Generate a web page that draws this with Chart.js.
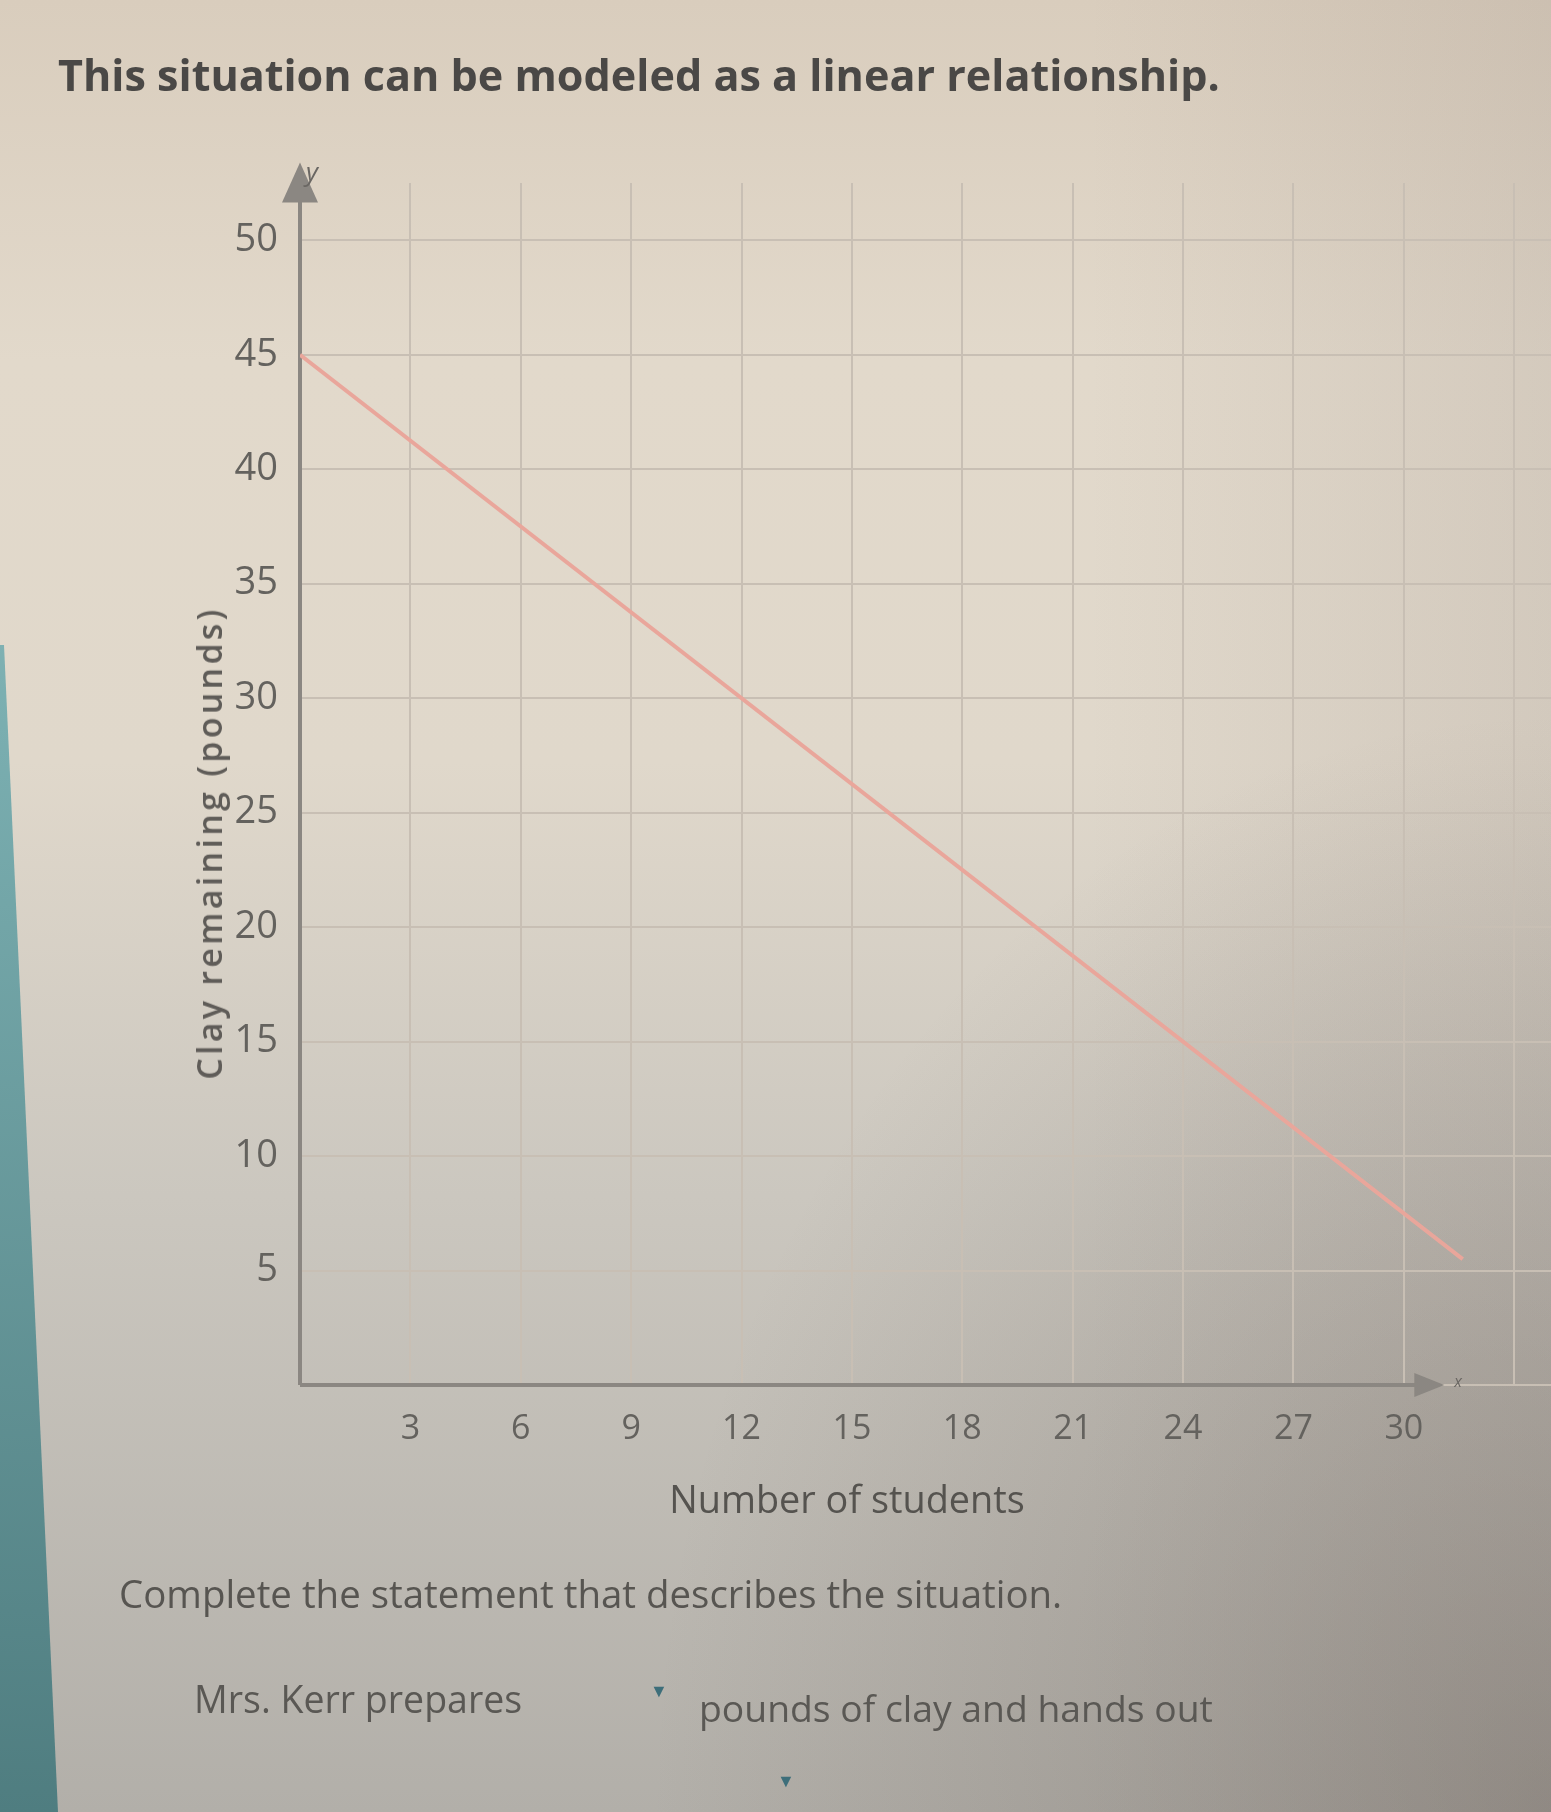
<!DOCTYPE html>
<html><head><meta charset="utf-8">
<script src="https://cdn.jsdelivr.net/npm/chart.js@4/dist/chart.umd.min.js"></script>
<style>
html,body{margin:0;padding:0;width:1551px;height:1812px;overflow:hidden;}
body{position:relative;font-family:"Open Sans",sans-serif;
background:
 radial-gradient(ellipse 900px 1100px at 1551px 1812px, rgba(95,85,78,0.35), rgba(95,85,78,0) 100%),
 linear-gradient(to right, rgba(0,0,0,0) 70%, rgba(110,95,90,0.12) 100%),
 linear-gradient(to bottom,#d9cdbd 0%,#e2d9cb 20%,#e0d8cb 42%,#cbc7bf 66%,#b2afa9 100%);}
#teal{position:absolute;left:0;top:0;width:80px;height:1812px;background:linear-gradient(#a6c8c6 0%,#7aaeb0 40%,#4f7d80 100%);clip-path:polygon(0 645px, 4px 645px, 58px 1812px, 0 1812px);}
#wrap{position:absolute;left:0;top:0;width:1551px;height:1812px;}
.t{position:absolute;white-space:nowrap;color:#4f4d4a;line-height:1;}
.c{transform:translate(0,-50%);}
.tri{position:absolute;color:#3d6e7a;font-size:18px;line-height:1;transform:translate(-50%,-50%);}
</style></head><body>
<div id="teal"></div>
<div id="wrap"><canvas id="c" width="1551" height="1812"></canvas></div>
<div class="t c fit" data-w="1162" style="left:58px;top:75px;font-size:38px;font-weight:700;color:#4a4846">This situation can be modeled as a linear relationship.</div>
<div class="t spread" data-w="473" style="left:209px;top:843px;font-size:34px;font-weight:600;color:#5f5c58;transform:translate(-50%,-50%) rotate(-90deg)">Clay remaining (pounds)</div>
<div class="t" style="left:312px;top:171px;font-size:26px;font-style:italic;color:#6a6763;transform:translate(-50%,-50%)">y</div>
<div class="t" style="left:1458px;top:1381px;font-size:16px;font-style:italic;color:#6a6763;transform:translate(-50%,-50%)">x</div>
<div class="t fit" data-w="356" style="left:847px;top:1499px;font-size:32px;color:#55534f;transform:translate(-50%,-50%)">Number of students</div>
<div class="t c fit" data-w="944" style="left:119px;top:1593px;font-size:32px;color:#575551">Complete the statement that describes the situation.</div>
<div class="t c fit" data-w="328" style="left:194px;top:1699px;font-size:32px;color:#5a5854">Mrs. Kerr prepares</div>
<div class="tri" style="left:659px;top:1690px">&#9660;</div>
<div class="t c fit" data-w="514" style="left:699px;top:1708px;font-size:32px;color:#5a5854">pounds of clay and hands out</div>
<div class="tri" style="left:786px;top:1780px">&#9660;</div>
<script>
// ---- data ----
const xValues = [0, 31.6];
const yValues = [45, 5.5];
const xTickValues = [0, 3, 6, 9, 12, 15, 18, 21, 24, 27, 30, 33];
const xTickLabels = ['', '3', '6', '9', '12', '15', '18', '21', '24', '27', '30', ''];
const yTickValues = [0, 5, 10, 15, 20, 25, 30, 35, 40, 45, 50];
const yTickLabels = ['', '5', '10', '15', '20', '25', '30', '35', '40', '45', '50'];
const xRange = [0, 34];
const yRange = [0, 52.5];
const xAxisEnd = 31.1;
const yAxisEnd = 53.4;

// fit text widths to the reference
document.querySelectorAll('.fit').forEach(el => {
  const target = +el.dataset.w;
  const fs = parseFloat(el.style.fontSize);
  const w = el.scrollWidth;
  if (w > 0) el.style.fontSize = (fs * target / w).toFixed(2) + 'px';
});
document.querySelectorAll('.spread').forEach(el => {
  const target = +el.dataset.w;
  const w = el.scrollWidth;
  const n = el.textContent.length;
  if (w > 0) el.style.letterSpacing = ((target - w) / n).toFixed(2) + 'px';
});

const axisColor = '#8b8782';
const gridColor = '#c8bfb4';
const tickColor = '#64625e';

const axesPlugin = {
  id: 'axes',
  beforeDatasetsDraw(chart) {
    const {ctx, scales: {x, y}} = chart;
    const x0 = x.getPixelForValue(0), y0 = y.getPixelForValue(0);
    const xe = x.getPixelForValue(xAxisEnd), ye = y.getPixelForValue(yAxisEnd);
    ctx.save();
    ctx.strokeStyle = axisColor; ctx.fillStyle = axisColor; ctx.lineWidth = 4;
    ctx.beginPath(); ctx.moveTo(x0, y0); ctx.lineTo(x0, ye + 30); ctx.stroke();
    ctx.beginPath(); ctx.moveTo(x0, y0); ctx.lineTo(xe - 20, y0); ctx.stroke();
    ctx.beginPath(); ctx.moveTo(x0, ye); ctx.lineTo(x0 - 18, ye + 40); ctx.lineTo(x0 + 18, ye + 40); ctx.closePath(); ctx.fill();
    ctx.beginPath(); ctx.moveTo(xe, y0); ctx.lineTo(xe - 30, y0 - 12); ctx.lineTo(xe - 30, y0 + 12); ctx.closePath(); ctx.fill();
    ctx.restore();
  }
};

new Chart(document.getElementById('c'), {
  type: 'scatter',
  data: {
    datasets: [{
      data: xValues.map((v, i) => ({x: v, y: yValues[i]})),
      showLine: true,
      borderColor: '#e9a69b',
      borderWidth: 4,
      pointRadius: 0,
      fill: false
    }]
  },
  options: {
    responsive: false,
    animation: false,
    layout: {padding: {left: 180, top: 183, right: 0, bottom: 347}},
    plugins: {legend: {display: false}, tooltip: {enabled: false}},
    scales: {
      x: {
        type: 'linear', min: xRange[0], max: xRange[1],
        afterBuildTicks: s => { s.ticks = xTickValues.map(v => ({value: v})); },
        afterFit: s => { s.height = 80; },
        grid: {color: gridColor, lineWidth: 2, drawTicks: false},
        border: {display: false},
        ticks: {padding: 24, color: tickColor, font: {family: 'Open Sans', size: 34},
                maxRotation: 0, autoSkip: false,
                callback: v => xTickLabels[xTickValues.indexOf(v)] ?? ''}
      },
      y: {
        type: 'linear', min: yRange[0], max: yRange[1],
        afterBuildTicks: s => { s.ticks = yTickValues.map(v => ({value: v})); },
        afterFit: s => { s.width = 120; },
        grid: {color: gridColor, lineWidth: 2, drawTicks: false},
        border: {display: false},
        ticks: {padding: 22, color: tickColor, font: {family: 'Open Sans', size: 38},
                autoSkip: false,
                callback: v => yTickLabels[yTickValues.indexOf(v)] ?? ''}
      }
    }
  },
  plugins: [axesPlugin]
});
</script>
</body></html>
